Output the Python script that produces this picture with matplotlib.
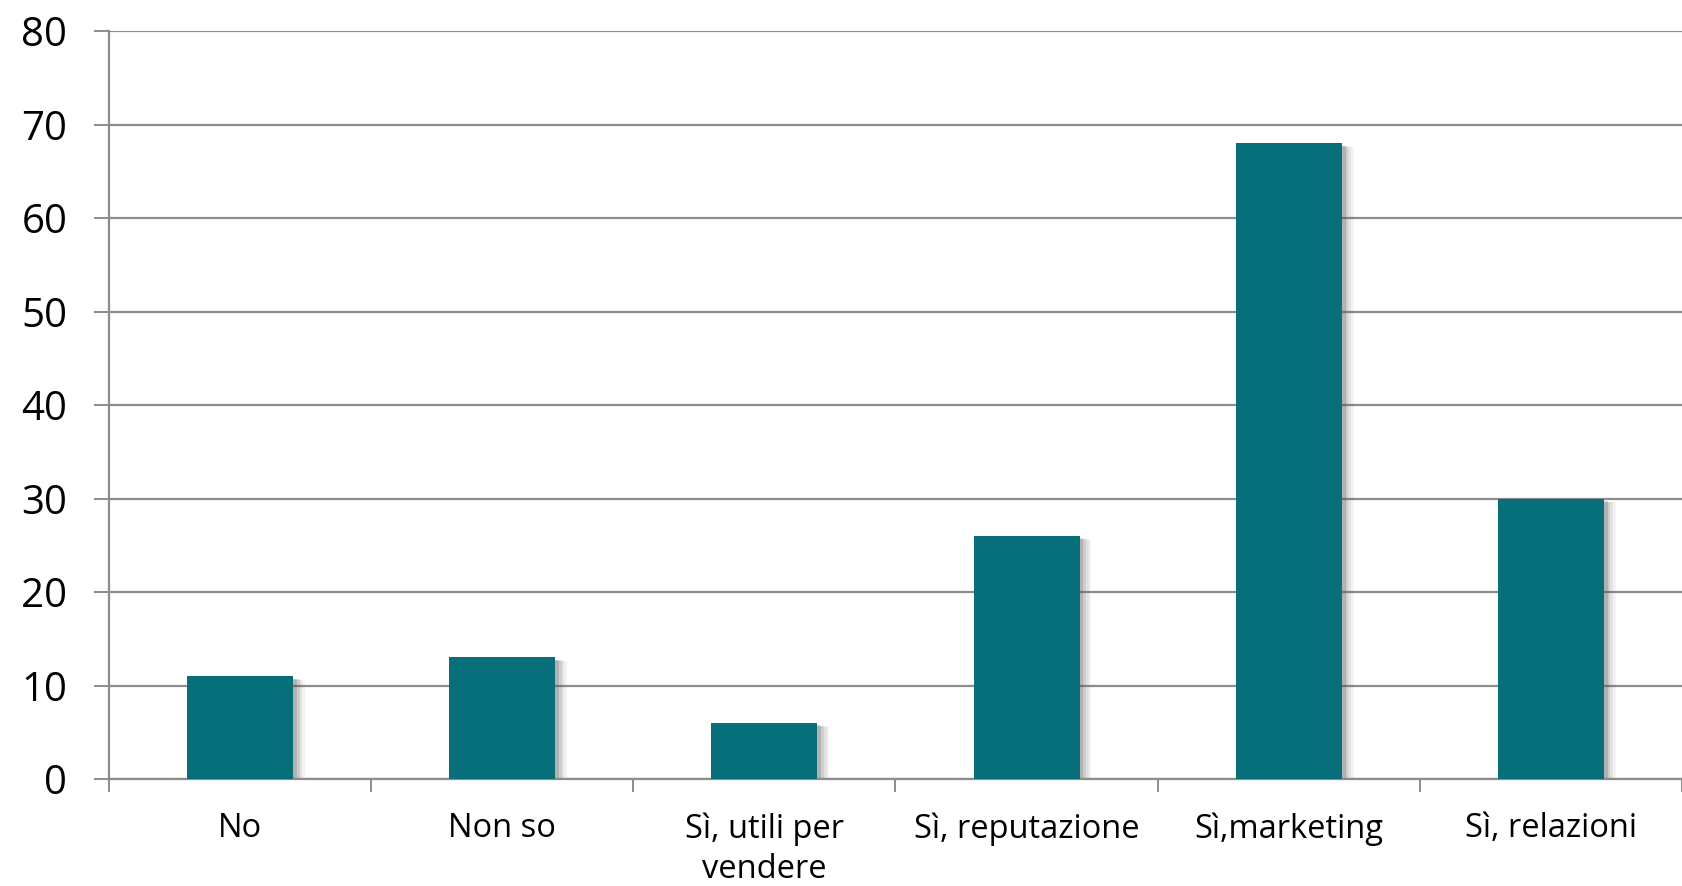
import matplotlib
matplotlib.use("Agg")
import matplotlib.pyplot as plt
import numpy as np

# data
categories = ["No", "Non so", "Sì, utili per\nvendere", "Sì, reputazione", "Sì,marketing", "Sì, relazioni"]
values = [11, 13, 6, 26, 68, 30]
yticks = [0, 10, 20, 30, 40, 50, 60, 70, 80]

BAR_COLOR = "#066f7a"
GRID_COLOR = "#8c8c8c"

plt.rcParams['font.family'] = ['Open Sans', 'DejaVu Sans']

W, H = 1682, 886
fig = plt.figure(figsize=(W / 100, H / 100), dpi=100)
left, zero_y, top_y, step = 109, 779, 31, 265
ax = fig.add_axes([left / W, (H - zero_y) / H, 1 - left / W, (zero_y - top_y) / H])

x = np.arange(len(categories))
width = 0.404

# soft shadow: a few offset translucent layers behind each bar
for k, a in [(0.045, 0.07), (0.035, 0.10), (0.025, 0.15), (0.015, 0.22)]:
    ax.bar(x + k, np.array(values) + 0.1, width=width, bottom=-0.3 - k * 5,
           color="#555555", alpha=a, zorder=2, linewidth=0)
ax.bar(x, values, width=width, color=BAR_COLOR, zorder=3, linewidth=0)

ax.set_ylim(0, 80)
ax.set_xlim(-0.5, -0.5 + (W - left) / step)
ax.set_yticks(yticks)
ax.set_yticklabels([str(v) for v in yticks], fontsize=29)
ax.yaxis.grid(True, color=GRID_COLOR, linewidth=1.6, zorder=0)
ax.set_axisbelow(True)

ax.set_xticks(x)
ax.set_xticklabels(categories, fontsize=23.5, linespacing=1.3)
ax.set_xticks(np.arange(len(categories) + 1) - 0.5, minor=True)
ax.tick_params(axis='x', which='major', length=0, pad=24)
ax.tick_params(axis='x', which='minor', length=9, width=1.4, color=GRID_COLOR)
ax.tick_params(axis='y', length=11, width=1.4, color=GRID_COLOR, pad=19)

for side in ["top", "right"]:
    ax.spines[side].set_visible(False)
for side in ["left", "bottom"]:
    ax.spines[side].set_color(GRID_COLOR)
    ax.spines[side].set_linewidth(1.6)

fig.savefig("out.png", dpi=100, facecolor="white")
